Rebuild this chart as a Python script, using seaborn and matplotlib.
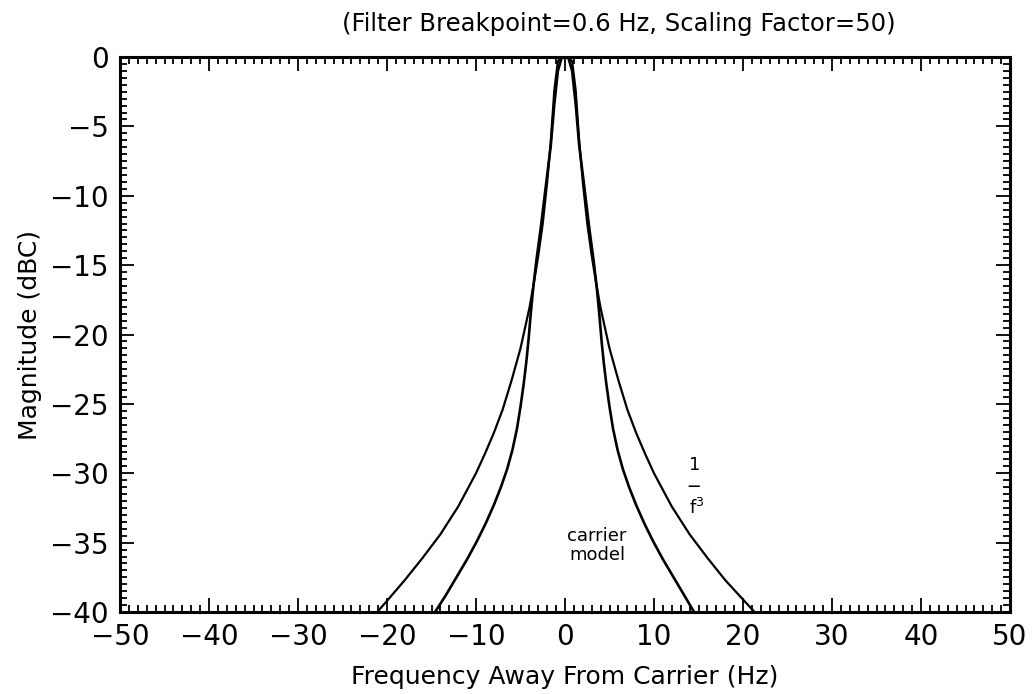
import numpy as np
import pandas as pd
import matplotlib
matplotlib.use("Agg")
import matplotlib.pyplot as plt
import seaborn as sns
from matplotlib.ticker import MultipleLocator

# ---- data ----
title = "(Filter Breakpoint=0.6 Hz, Scaling Factor=50)"
x_label = "Frequency Away From Carrier (Hz)"
y_label = "Magnitude (dBC)"

inv_f3_freq = [-21.1, -20.0, -18.0, -16.0, -14.0, -12.0, -10.0, -9.0, -8.0, -7.0, -6.0, -5.0, -4.0,
               -3.5, -3.0, -2.5, -2.0, -1.6, -1.2, -0.8, -0.3,
               0.0,
               0.3, 0.8, 1.2, 1.6, 2.0, 2.5, 3.0, 3.5, 4.0, 5.0, 6.0, 7.0, 8.0, 9.0, 10.0,
               12.0, 14.0, 16.0, 18.0, 20.0, 21.3]
inv_f3_db = [-40.0, -39.2, -37.7, -36.1, -34.4, -32.4, -30.0, -28.6, -27.1, -25.4, -23.3, -21.0, -18.1,
             -16.3, -14.3, -12.0, -9.0, -6.1, -2.4, -0.3, 0.0,
             0.0,
             0.0, -0.3, -2.4, -6.1, -9.0, -12.0, -14.3, -16.3, -18.1, -21.0, -23.3, -25.4, -27.1, -28.6, -30.0,
             -32.4, -34.4, -36.1, -37.7, -39.1, -40.0]

carrier_freq = [-14.6, -13.4, -12.2, -11.0, -9.9, -8.9, -8.0, -7.2, -6.5, -5.9, -5.4, -5.0, -4.65, -4.35,
                -4.1, -3.85, -3.55, -3.2, -2.7, -2.1, -1.6, -1.2, -0.8, -0.4,
                0.0,
                0.4, 0.8, 1.2, 1.6, 2.1, 2.7, 3.2, 3.55, 3.85, 4.1, 4.35, 4.65, 5.0, 5.4, 5.9, 6.5,
                7.2, 8.0, 8.9, 9.9, 11.0, 12.2, 13.4, 14.5]
carrier_db = [-40.0, -38.8, -37.5, -36.2, -34.9, -33.6, -32.3, -31.0, -29.7, -28.3, -26.8, -25.2, -23.6, -22.0,
              -20.4, -18.5, -16.5, -14.6, -12.2, -9.0, -6.4, -3.4, -1.0, -0.1,
              0.0,
              -0.1, -1.0, -3.4, -6.4, -9.0, -12.2, -14.6, -16.5, -18.5, -20.4, -22.0, -23.6, -25.2, -26.8, -28.3, -29.7,
              -31.0, -32.3, -33.6, -34.9, -36.2, -37.5, -38.8, -40.0]

x_ticks = [-50, -40, -30, -20, -10, 0, 10, 20, 30, 40, 50]
y_ticks = [0, -5, -10, -15, -20, -25, -30, -35, -40]

sns.set_theme(style="white")
plt.rcParams['font.family'] = ['DejaVu Sans']

fig = plt.figure(figsize=(10.32, 6.94), dpi=100)
ax = fig.add_axes([120/1032, 1 - 612/694, (1010-120)/1032, (612-57)/694])

df1 = pd.DataFrame({"f": inv_f3_freq, "db": inv_f3_db})
df2 = pd.DataFrame({"f": carrier_freq, "db": carrier_db})
sns.lineplot(data=df1, x="f", y="db", sort=False, estimator=None, color="black", lw=1.6, ax=ax)
sns.lineplot(data=df2, x="f", y="db", sort=False, estimator=None, color="black", lw=1.9, ax=ax)

ax.set_xlim(-50, 50)
ax.set_ylim(-40, 0)
ax.set_xticks(x_ticks)
ax.set_yticks(y_ticks)
ax.set_xticklabels([str(t).replace("-", "\u2212") for t in x_ticks])
ax.set_yticklabels([str(t).replace("-", "\u2212") for t in y_ticks])
ax.xaxis.set_minor_locator(MultipleLocator(1))
ax.yaxis.set_minor_locator(MultipleLocator(0.5))
ax.tick_params(which="both", direction="in", top=True, right=True, bottom=True, left=True,
               color="black", width=1.3, labelsize=20, labelcolor="black")
ax.tick_params(which="major", length=10, pad=8)
ax.tick_params(which="minor", length=5)
for s in ax.spines.values():
    s.set_color("black")
    s.set_linewidth(2.2)

ax.set_xlabel(x_label, fontsize=18, color="black", labelpad=10)
ax.set_ylabel(y_label, fontsize=18, color="black", labelpad=6)
fig.text(619/1032, 1 - 24/694, title, fontsize=17.5, color="black", ha="center", va="center")

# annotations
ax.text(14.6, -29.4, "1", fontsize=13, ha="center", va="center", color="black")
ax.text(14.5, -30.95, "\u2014", fontsize=9, ha="center", va="center", color="black", fontweight="bold")
ax.text(14.8, -32.5, "f$^3$", fontsize=13, ha="center", va="center", color="black")
ax.text(3.6, -35.2, "carrier\nmodel", fontsize=13, ha="center", va="center", color="black",
        linespacing=1.1)

fig.savefig("out.png", dpi=100)
